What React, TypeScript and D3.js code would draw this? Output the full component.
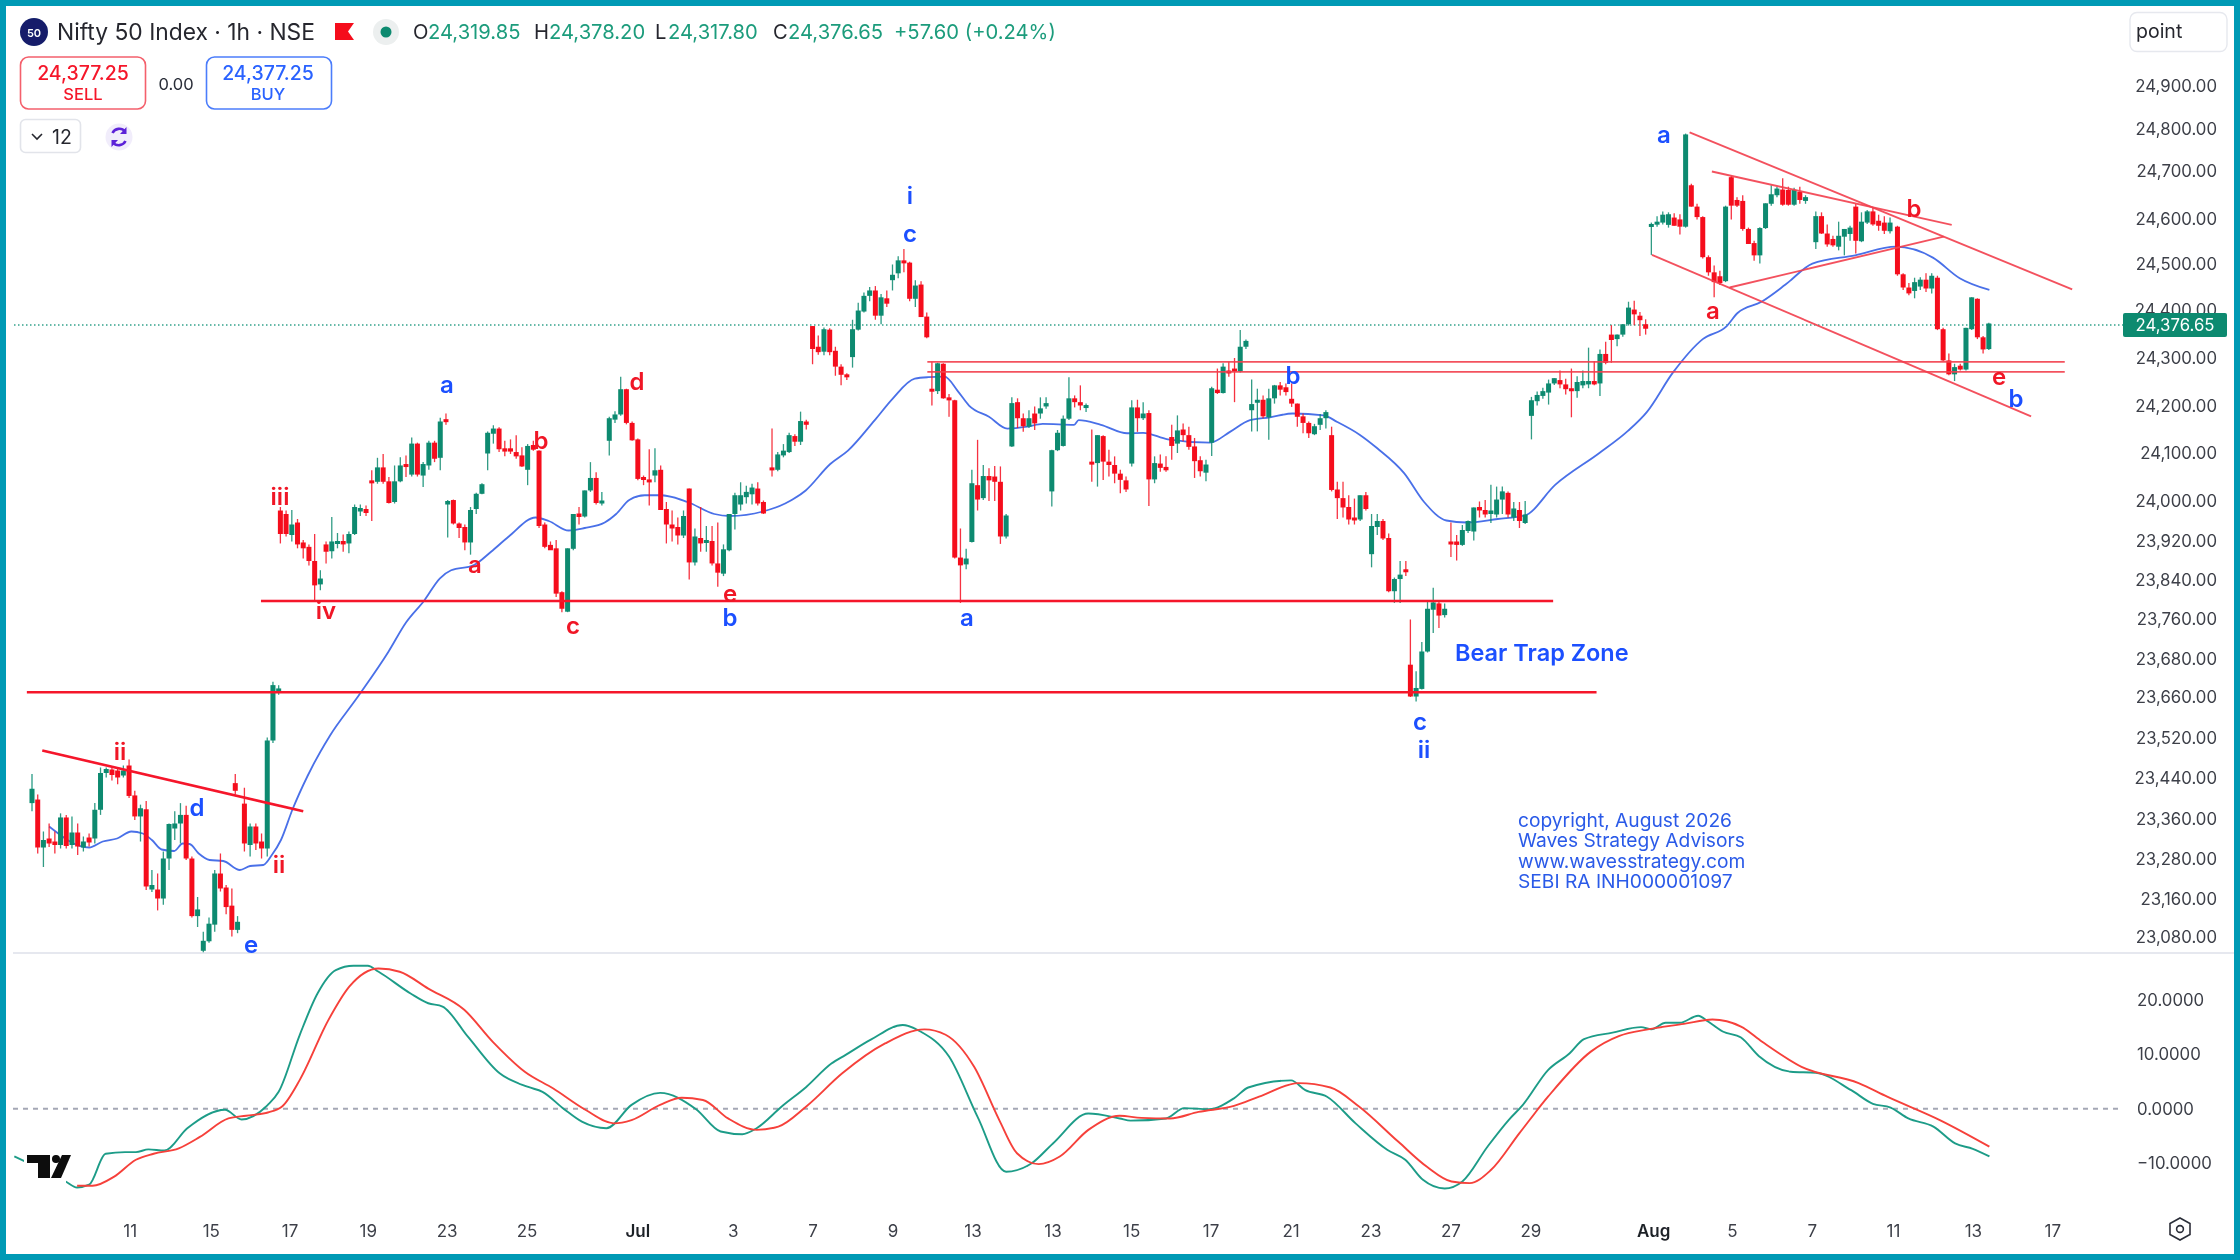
import React from "react";
import * as d3 from "d3";

type Bar = [number, number, number, number]; // open, high, low, close

const seg01: Bar[] = [
[23391,23448,23375,23419],[23398,23408,23291,23303],[23303,23335,23264,23318],[23321,23351,23304,23311],[23315,23335,23291,23308],
[23308,23371,23301,23363],[23363,23368,23301,23306],[23308,23365,23301,23333],[23333,23351,23288,23305],[23303,23325,23295,23315],
[23323,23331,23305,23313],[23321,23391,23311,23378],[23378,23461,23368,23450],[23450,23461,23441,23458],[23457,23461,23435,23446],
[23455,23461,23428,23441],[23445,23465,23441,23455],[23465,23477,23401,23405],[23406,23415,23358,23365],[23365,23388,23315,23381],
[23379,23395,23218,23225],[23219,23258,23214,23228],[23219,23251,23176,23201],[23201,23295,23188,23281],[23281,23351,23258,23350],
[23341,23375,23318,23351],[23351,23391,23311,23368],[23368,23386,23278,23281],[23281,23285,23161,23164],[23164,23204,23141,23178],
[23091,23131,23088,23112],[23111,23161,23108,23148],[23146,23258,23131,23251],[23251,23291,23215,23221],[23223,23228,23168,23183],
[23186,23221,23121,23135],[23135,23164,23128,23152],
];
const seg02: Bar[] = [[23430,23448,23408,23415]];
const seg03: Bar[] = [
[23390,23421,23295,23311],[23308,23351,23285,23345],[23345,23351,23298,23311],[23315,23331,23281,23301],[23301,23521,23285,23515],
[23515,23632,23510,23625],[23610,23625,23605,23618],
];
const seg04: Bar[] = [
[23981,23988,23915,23934],[23974,23981,23929,23934],[23932,23982,23919,23953],[23957,23964,23905,23913],[23917,23922,23884,23905],
[23908,23913,23870,23879],[23879,23934,23796,23829],[23831,23860,23819,23843],[23913,23919,23874,23898],[23899,23968,23884,23919],
[23915,23936,23905,23920],[23920,23933,23898,23913],[23915,23939,23895,23934],[23934,23993,23932,23988],[23979,23993,23970,23986],
[23984,23991,23970,23976],[24043,24064,23960,24038],[24040,24090,24036,24070],[24070,24098,24036,24040],[24041,24050,23995,23996],
[23998,24074,23995,24041],[24041,24091,24039,24074],[24077,24095,24050,24072],[24055,24133,24051,24120],[24120,24122,24051,24055],
[24053,24081,24029,24077],[24074,24126,24065,24122],[24122,24126,24081,24088],[24090,24175,24064,24167],[24172,24184,24160,24167],
];
const seg05: Bar[] = [
[23993,24002,23927,24000],[24002,24003,23953,23955],[23955,23957,23926,23946],[23948,23953,23901,23917],[23917,23988,23892,23982],
[23984,24017,23974,24015],[24015,24037,24014,24035],
];
const seg06: Bar[] = [
[24099,24146,24064,24143],[24141,24159,24120,24152],[24152,24155,24102,24108],[24110,24126,24093,24103],[24110,24129,24098,24103],
[24102,24138,24088,24093],[24095,24112,24071,24072],[24065,24119,24033,24115],[24117,24126,24105,24107],[24105,24106,23946,23950],
[23953,23957,23905,23908],[23912,23919,23902,23901],[23905,23922,23805,23812],[23815,23817,23774,23781],[23775,23905,23774,23905],
[23904,23974,23901,23974],[23975,23988,23953,23968],[23969,24022,23967,24022],[24022,24081,24019,24048],[24048,24060,23993,23996],
[23996,24019,23991,24001],
];
const seg07: Bar[] = [
[24126,24177,24095,24174],[24171,24189,24164,24182],[24182,24261,24179,24235],[24235,24236,24161,24164],[24164,24167,24126,24127],
[24129,24131,24043,24046],[24050,24053,24033,24044],[24045,24108,23991,24042],[24053,24110,24039,24064],[24065,24074,23983,23982],
[23984,23998,23915,23953],[23953,23981,23919,23945],[23948,23967,23913,23931],[23931,23981,23926,23970],[24026,24026,23841,23876],
[23876,23945,23870,23929],[23926,23988,23898,23915],[23917,23950,23898,23922],[23920,23950,23870,23874],[23874,23957,23826,23855],
[23853,23913,23848,23903],[23901,23974,23899,23974],[23974,24017,23943,24012],[23993,24039,23981,24012],[24008,24032,23995,24019],
[24014,24036,23993,24028],[24026,24039,23991,23995],[23998,24001,23974,23975],
];
const seg08: Bar[] = [
[24070,24152,24051,24065],[24065,24102,24062,24097],[24095,24119,24091,24105],[24102,24143,24100,24138],[24136,24140,24115,24124],
[24124,24188,24117,24168],[24167,24171,24150,24160],
];
const seg09: Bar[] = [
[24371,24371,24287,24320],[24325,24350,24307,24313],[24314,24368,24306,24364],[24363,24366,24306,24313],[24316,24325,24263,24282],
[24282,24287,24243,24265],[24266,24268,24254,24261],[24302,24385,24280,24364],[24363,24421,24361,24405],[24403,24442,24401,24435],
[24435,24453,24424,24446],[24446,24455,24385,24394],[24394,24439,24375,24432],[24430,24446,24412,24419],[24467,24499,24446,24478],
[24481,24517,24471,24508],[24508,24533,24483,24503],[24503,24505,24424,24429],[24429,24467,24412,24456],[24458,24465,24391,24391],
[24392,24401,24344,24346],
];
const seg10: Bar[] = [
[24236,24292,24201,24232],[24231,24290,24225,24289],[24288,24289,24215,24216],[24218,24225,24177,24212],[24212,24213,23884,23886],
[23886,23945,23793,23870],[23872,23904,23862,23884],[23918,24065,23917,24037],[24033,24128,23981,24003],[24006,24075,24002,24052],
[24052,24068,24000,24043],[24051,24073,24000,24040],[24040,24072,23914,23929],[23929,23974,23925,23971],[24114,24218,24113,24206],
[24208,24216,24153,24174],[24174,24184,24145,24157],[24156,24191,24153,24174],[24184,24199,24149,24163],[24184,24218,24173,24195],
[24199,24218,24194,24206],[24020,24107,23989,24106],[24106,24149,24104,24143],[24115,24180,24114,24173],[24173,24260,24170,24216],
[24216,24222,24197,24208],[24208,24243,24191,24201],[24197,24205,24187,24202],[24082,24150,24040,24079],[24079,24138,24030,24138],
[24136,24138,24044,24082],[24082,24107,24051,24075],[24075,24093,24037,24057],[24057,24065,24016,24044],[24043,24051,24019,24024],
[24078,24212,24072,24197],[24197,24213,24145,24174],[24174,24208,24170,24184],[24185,24191,23990,24045],[24045,24093,24037,24079],
[24078,24097,24061,24069],[24071,24093,24061,24064],[24134,24160,24086,24115],[24120,24180,24100,24148],[24150,24163,24125,24138],
[24138,24156,24107,24113],[24114,24132,24048,24083],[24085,24093,24051,24062],[24059,24086,24041,24076],[24122,24240,24094,24237],
[24234,24278,24225,24227],[24227,24289,24226,24282],[24274,24292,24261,24268],[24278,24300,24208,24272],[24272,24362,24270,24325],
[24325,24341,24320,24338],[24191,24255,24146,24204],[24207,24236,24146,24213],[24213,24222,24174,24178],[24176,24236,24128,24216],
[24216,24244,24205,24243],[24243,24250,24222,24234],[24239,24247,24222,24229],[24215,24247,24198,24205],[24205,24205,24156,24177],
[24178,24184,24142,24164],[24164,24167,24132,24142],[24140,24162,24138,24157],[24160,24183,24149,24174],[24174,24191,24152,24187],
[24138,24156,24020,24023],[24024,24040,23964,24006],[24006,24040,23967,23987],[23988,24012,23953,23963],[23967,24005,23953,23961],
[23963,24012,23960,24012],[24012,24019,23981,23984],[23893,23974,23866,23950],[23948,23974,23932,23960],[23960,23964,23922,23925],
[23926,23935,23815,23817],[23817,23845,23793,23842],[23842,23879,23793,23851],[23862,23879,23848,23856],
];
const seg11: Bar[] = [
[23668,23759,23600,23601],[23601,23654,23591,23619],[23617,23714,23616,23695],[23695,23796,23693,23781],[23779,23824,23732,23794],
[23792,23799,23742,23767],[23768,23792,23763,23781],
];
const seg12: Bar[] = [
[23919,23957,23887,23917],[23919,23932,23880,23912],[23912,23952,23910,23942],[23940,23961,23936,23960],[23939,23987,23921,23987],
[23988,23999,23967,23981],[23982,24002,23967,23973],[23974,24034,23956,23981],[23973,24030,23967,24003],[24003,24030,23974,24020],
[24017,24020,23967,23973],[23967,23998,23960,23985],[23982,23998,23946,23960],[23956,24000,23954,23973],
];
const seg13: Bar[] = [
[24179,24219,24129,24212],[24210,24230,24201,24223],[24221,24238,24215,24231],[24228,24255,24203,24247],[24247,24258,24244,24258],
[24254,24274,24237,24245],[24245,24257,24224,24235],[24237,24278,24176,24231],[24231,24262,24217,24250],[24243,24274,24237,24252],
[24245,24323,24237,24252],[24252,24294,24243,24245],[24247,24319,24221,24309],[24309,24336,24287,24290],[24352,24373,24290,24340],
[24342,24352,24326,24352],[24352,24375,24347,24375],[24375,24423,24372,24411],[24407,24425,24373,24397],[24394,24402,24349,24384],
[24375,24386,24352,24365],
];
const seg14: Bar[] = [
[24582,24591,24520,24588],[24588,24605,24582,24593],[24591,24615,24587,24608],[24586,24613,24580,24609],[24602,24611,24584,24584],
[24598,24609,24565,24582],[24582,24788,24580,24786],[24670,24673,24625,24625],[24625,24631,24598,24603],[24603,24605,24512,24515],
[24515,24519,24476,24483],[24483,24497,24432,24463],[24475,24486,24457,24461],[24465,24627,24463,24625],[24687,24690,24598,24627],
[24639,24645,24624,24627],[24637,24649,24573,24577],[24577,24580,24544,24544],[24546,24551,24507,24519],[24519,24581,24501,24579],
[24579,24632,24577,24632],[24631,24670,24627,24651],[24649,24667,24645,24663],[24661,24685,24627,24629],[24660,24667,24627,24629],
[24629,24665,24627,24660],[24656,24667,24631,24639],[24637,24649,24631,24645],
];
const seg15: Bar[] = [
[24548,24615,24533,24605],[24605,24613,24566,24567],[24567,24587,24538,24543],[24555,24562,24538,24541],[24538,24593,24530,24562],
[24560,24577,24519,24577],[24566,24584,24551,24580],[24625,24631,24523,24551],[24550,24613,24548,24593],[24591,24618,24588,24615],
[24615,24624,24584,24587],[24595,24608,24573,24584],[24591,24605,24566,24573],[24572,24602,24567,24591],
];
const seg16: Bar[] = [
[24582,24584,24476,24479],[24479,24481,24447,24452],[24452,24461,24436,24440],[24445,24472,24430,24463],[24454,24473,24447,24468],
[24468,24481,24443,24450],[24450,24481,24440,24476],[24472,24476,24362,24364],[24364,24367,24293,24295],[24295,24310,24264,24266],
[24266,24288,24252,24281],[24284,24288,24274,24276],[24276,24367,24274,24367],[24364,24432,24362,24432],[24429,24430,24342,24346],
[24346,24349,24310,24319],[24319.85,24378.2,24317.8,24376.65],
];
const segments: { start: number; bars: Bar[] }[] = [
  { start: 0, bars: seg01 }, { start: 35.6, bars: seg02 }, { start: 37.2, bars: seg03 }, { start: 43.5, bars: seg04 },
  { start: 72.8, bars: seg05 }, { start: 79.8, bars: seg06 }, { start: 101.1, bars: seg07 }, { start: 129.6, bars: seg08 },
  { start: 136.7, bars: seg09 }, { start: 157.6, bars: seg10 }, { start: 241.4, bars: seg11 }, { start: 248.5, bars: seg12 },
  { start: 262.6, bars: seg13 }, { start: 283.6, bars: seg14 }, { start: 312.4, bars: seg15 }, { start: 326.7, bars: seg16 },
];

const maLine: [number, number][] = [
[3,23345],[10,23303],[12.4,23315],[14.9,23321],[17.4,23335],[19.4,23331],[21,23318],[22.7,23299],[24.9,23296],[26.4,23311],[27.6,23310],[29.2,23291],[31.1,23278],[33.5,23276],[36.4,23258],[38.2,23266],[40.5,23268],[42,23288],[43.6,23318],[45.6,23378],[48.3,23445],[52.2,23525],[56.9,23598],
[62.4,23694],[65.5,23753],[68.7,23798],[71.4,23843],[73.4,23860],[77.3,23870],[80.4,23898],[83.5,23929],[88.2,23967],[90.5,23960],[94,23941],[96.8,23946],[100.3,23957],[102.3,23974],[104.6,24002],[107.3,24012],[110.1,24012],[114.8,23998],[119.5,23974],[122.2,23970],[128,23979],[131.9,23995],[135.5,24022],[139.8,24077],[142.9,24105],[147.6,24170],[150.7,24215],[154.6,24257],[156.9,24260],
[159.8,24261],[162.2,24230],[164.1,24201],[167.6,24177],[170.8,24152],[174.3,24156],[177,24162],[182.5,24160],[183.3,24170],[187.2,24160],[191.8,24142],[194.6,24143],[198.9,24129],[206.3,24122],[209.8,24145],[213.3,24170],[216.8,24176],[220.8,24184],[226.2,24180],[228.6,24166],[232.5,24139],[235.6,24110],[240.3,24058],[243.8,23998],[247.7,23961],[251.2,23957],[256.7,23964],[261.4,23971],[266.8,24034],[274.5,24100],
[279.5,24147],[282.8,24187],[287.4,24270],[292.6,24342],[296.8,24371],[298.7,24400],[302.9,24423],[307.1,24458],[311.8,24501],[319.3,24519],[326.4,24538],[332.9,24514],[337.6,24471],[342.8,24447],
];

const signalGreen: [number, number][] = [
[-3.1,-8.8],[5.9,-13.4],[7.9,-14.5],[10,-14],[12.9,-8.3],[16.3,-8],[18.2,-8],[20.4,-7.5],[23.2,-7.7],[27.2,-3.6],[33.8,-0.2],[36.7,-2],[41.3,0.7],[43.2,3.1],[46.9,13.6],[50,21.2],[53.2,25.5],[56.3,26.3],[58.8,26.3],[60.7,25.2],[66.3,21.2],[69.4,19.4],[71.9,18.8],[76.3,13.3],[81.9,6.5],[86.9,4],[89.4,3.1],[93.2,-0.1],[96.3,-2.4],[100.6,-3.6],[105,0.7],[110,2.9],[116.3,-0.1],[120.6,-4.2],[124.4,-4.7],[126.9,-3.6],[131.3,0.4],[135.6,4],[140,8.3],[142.5,9.9],[146.9,12.7],[152.5,15.4],[155.6,14.2],[160.6,9.6],[165.6,-1.5],[170.6,-11.6],[175,-10.1],[178.8,-6.4],[185,-0.9],[190.5,-1.8],[192.4,-2.2],[198.6,-1.8],[201.8,0.1],[206.1,-0.1],[210.5,1.9],[213,3.9],[220.5,5.2],[223,3.4],[226.8,2.2],[231.8,-2.7],[237.4,-7.6],[240.5,-9.4],[243.6,-13.1],[247.4,-14.7],[250.5,-13.4],[254.9,-7],[258.6,-2.1],[261.1,0.7],[265.5,7.1],[269.3,10.2],[271.8,12.8],[276.8,14],[281.8,15],[283.6,14.6],[286.1,15.8],[288.6,15.8],[291.8,17.1],[293.6,16],[296.1,14.2],[299.3,13.1],[302.4,9.7],[308,6.8],[312.4,6.6],[318.6,3.4],[322.4,0.9],[325.5,0.2],[328.6,-1.8],[333,-3.3],[336.8,-6.4],[339.9,-7.4],[342.8,-8.8],
];
const signalRed: [number, number][] = [
[7.9,-14.2],[10.6,-14.2],[14.4,-12.5],[18.2,-9.4],[21.3,-8.3],[25.7,-7.3],[29.4,-5.2],[34.4,-1.8],[37.5,-1.3],[41.3,-0.7],[43.8,0.4],[46.9,5.3],[51.9,16.3],[55.6,22.5],[60.7,25.8],[64.4,25.2],[69.4,22.1],[75.7,18.2],[80.7,12.3],[86.3,6.8],[91.3,3.7],[96.9,-0.2],[101.9,-2.7],[105,-2.1],[110,0.7],[113.8,2],[117.5,1.6],[121.9,-1.8],[126.9,-3.9],[130.7,-3.3],[135.6,0.4],[141.9,6.5],[149.4,12],[156.3,14.6],[160,13.6],[165,7.7],[169.4,-2.1],[172.5,-8.2],[176.3,-10.2],[180,-8.8],[185,-3.9],[190.5,-1.3],[194.3,-1.7],[199.3,-1.8],[204.3,-0.6],[210.5,0.5],[214.9,2.2],[221.8,4.7],[227.4,3.9],[232.4,0.4],[239.3,-6.1],[244.3,-10.7],[248.6,-13.4],[251.8,-13.7],[255.5,-11.3],[260.5,-4.5],[265.5,2.2],[273,10.5],[278,13.4],[283,14.6],[289.3,15.6],[294.3,16.4],[299.3,15.1],[303,12.3],[309.9,7.7],[319.9,4.7],[324.9,2.2],[334.3,-2.2],[342.8,-7],
];

const strongLines: [number, number, number, number][] = [
  [1.8, 23495, 47.5, 23375],
  [40.1, 23797, 266.4, 23797],
  [-0.9, 23610, 274, 23610],
];
const softLines: [number, number, number, number][] = [
  [156.8, 24292, 356, 24292],
  [156.8, 24271, 356, 24271],
  [290.3, 24791, 357.3, 24448],
  [283.7, 24520, 350.1, 24178],
  [294.2, 24699, 336.2, 24586],
  [297.3, 24452, 334.8, 24560],
];

const priceTickValues = [24900,24800,24700,24600,24500,24400,24300,24200,24100,24000,23920,23840,23760,23680,23600,23520,23440,23360,23280,23200,23120];
const priceTickLabels = ["24,900.00","24,800.00","24,700.00","24,600.00","24,500.00","24,400.00","24,300.00","24,200.00","24,100.00","24,000.00","23,920.00","23,840.00","23,760.00","23,680.00","23,660.00","23,520.00","23,440.00","23,360.00","23,280.00","23,160.00","23,080.00"];
const priceTickPixels = [86,128.5,171,218.5,264,313,358,406,453,501,541,580,619,659,697,738,778,819,859,899,937];

const dateLabels = ["11","15","17","19","23","25","Jul","3","7","9","13","13","15","17","21","23","27","29","Aug","5","7","11","13","17"];
const dateBars = [17.2,31.4,45.2,58.9,72.7,86.7,106.1,122.8,136.8,150.8,164.8,178.8,192.6,206.5,220.5,234.5,248.5,262.5,284,297.8,311.8,326,340,353.9];
const monthLabels = ["Jul", "Aug"];

const oscTicks = [20, 10, 0, -10];

const blueLabels: [string, number, number][] = [
  ["a",447,384],["i",910,195],["c",910,233],["a",1664,134],["d",197,807],["e",251,944],["b",1293,375],["b",730,617],["a",967,617],["c",1420,721],["ii",1424,749],["b",2016,398],
];
const redLabels: [string, number, number][] = [
  ["ii",120,751],["ii",279,864],["iii",280,496],["iv",326,610],["a",475,564],["b",541,440],["c",573,625],["d",637,381],["e",730,593],["a",1713,310],["b",1914,208],["e",1999,376],
];
const copyrightLines = ["copyright, August 2026", "Waves Strategy Advisors", "www.wavesstrategy.com", "SEBI RA INH000001097"];

const FONT = "Inter, 'Noto Sans', sans-serif";
const GREEN = "#0b8a6f";
const RED = "#f5101f";
const BLUE = "#1a4fff";
const TEAL = "#009ab5";

const x = d3.scaleLinear().domain([0, 1]).range([32, 37.71]);
const y = d3.scaleLinear().domain(priceTickValues).range(priceTickPixels);
const z = d3.scaleLinear().domain([20, -10]).range([1000, 1163]);

const maPath = d3.line<[number, number]>().x((d) => x(d[0])).y((d) => y(d[1])).curve(d3.curveMonotoneX)(maLine) as string;
const oscPath = d3.line<[number, number]>().x((d) => x(d[0])).y((d) => z(d[1])).curve(d3.curveMonotoneX);

const lastClose = 24376.65;

export default function App() {
  const lastY = y(lastClose) + 1.5;
  return (
    <svg width={2240} height={1260} style={{ position: "absolute", left: 0, top: 0, background: "#fff" }} fontFamily={FONT}>
      <defs>
        <clipPath id="pane"><rect x={6} y={0} width={2228} height={953} /></clipPath>
        <filter id="soft"><feGaussianBlur stdDeviation="0.45" /></filter>
      </defs>
      <rect width={2240} height={1260} fill="#fff" />

      <g filter="url(#soft)">
        <line x1={14} x2={2123} y1={lastY} y2={lastY} stroke={GREEN} strokeWidth={1.3} strokeDasharray="1.5 2.5" opacity={0.8} />
        <line x1={13} x2={2234} y1={953} y2={953} stroke="#e6e8ef" strokeWidth={2} />

        <path d={maPath} fill="none" stroke="#4a70e8" strokeWidth={1.8} />

        <g clipPath="url(#pane)">
          {segments.map((s, si) =>
            s.bars.map((b, i) => {
              const [o, h, l, c] = b;
              const col = c >= o ? GREEN : RED;
              const cx = x(s.start + i);
              const top = y(Math.max(o, c));
              const bot = y(Math.min(o, c));
              return (
                <g key={`${si}-${i}`}>
                  <line x1={cx} x2={cx} y1={y(h)} y2={y(l)} stroke={col} strokeWidth={1.3} opacity={0.85} />
                  <rect x={cx - 2.5} width={5} y={top} height={Math.max(bot - top, 3)} fill={col} />
                </g>
              );
            })
          )}
        </g>

        {softLines.map((l, i) => (
          <line key={i} x1={x(l[0])} y1={y(l[1])} x2={x(l[2])} y2={y(l[3])} stroke="#f2404e" strokeWidth={1.9} opacity={0.9} />
        ))}
        {strongLines.map((l, i) => (
          <line key={i} x1={x(l[0])} y1={y(l[1])} x2={x(l[2])} y2={y(l[3])} stroke="#f5142a" strokeWidth={2.6} />
        ))}

        {blueLabels.map(([t, px, py], i) => (
          <text key={i} x={px} y={py} textAnchor="middle" dominantBaseline="central" fontSize={24} fontWeight={600} fill={BLUE}>{t}</text>
        ))}
        {redLabels.map(([t, px, py], i) => (
          <text key={i} x={px} y={py} textAnchor="middle" dominantBaseline="central" fontSize={24} fontWeight={600} fill="#f01525">{t}</text>
        ))}
        <text x={1455} y={661} fontSize={23.5} fontWeight={600} fill={BLUE}>Bear Trap Zone</text>
        {copyrightLines.map((t, i) => (
          <text key={i} x={1518} y={827 + i * 20.3} fontSize={19.2} fill="#2a5ae8">{t}</text>
        ))}

        {/* price axis */}
        {priceTickLabels.map((t, i) => (
          <text key={i} x={2217} y={priceTickPixels[i] - (t === "24,400.00" ? 3 : 0)} textAnchor="end" dominantBaseline="central" fontSize={16.8} fill="#3c3f48">{t}</text>
        ))}
        <rect x={2123} y={313} width={104} height={24} rx={2} fill={GREEN} />
        <text x={2175} y={325} textAnchor="middle" dominantBaseline="central" fontSize={16.8} fill="#fff">{lastClose.toLocaleString("en-US")}</text>

        {/* oscillator */}
        <line x1={13} x2={2123} y1={z(0)} y2={z(0)} stroke="#9598a8" strokeWidth={2} strokeDasharray="5 5" opacity={0.85} />
        <path d={oscPath(signalGreen) as string} fill="none" stroke="#1f9c88" strokeWidth={1.9} />
        <path d={oscPath(signalRed) as string} fill="none" stroke="#f6413a" strokeWidth={1.9} />
        {oscTicks.map((v) => (
          <text key={v} x={2137} y={z(v)} dominantBaseline="central" fontSize={16.8} fill="#3c3f48">
            {v < 0 ? "−" : ""}{Math.abs(v).toFixed(4)}
          </text>
        ))}

        {/* date axis */}
        {dateLabels.map((t, i) => (
          <text key={i} x={x(dateBars[i])} y={1231} textAnchor="middle" dominantBaseline="central" fontSize={17}
            fontWeight={monthLabels.includes(t) ? 600 : 400} fill={monthLabels.includes(t) ? "#1f2128" : "#3c3f48"}>{t}</text>
        ))}

        {/* TradingView mark */}
        <rect x={24} y={1150} width={42} height={50} fill="#fff" />
        <path d="M27 1155H50V1178H38V1163H27Z" fill="#0a0a0a" />
        <circle cx={56} cy={1159} r={4} fill="#0a0a0a" />
        <path d="M62 1155H71L61 1178H51Z" fill="#0a0a0a" />

        {/* settings */}
        <path d="M2180 1218L2190 1223.5V1234.5L2180 1240L2170 1234.5V1223.5Z" fill="none" stroke="#2a2e39" strokeWidth={1.6} />
        <circle cx={2180} cy={1229} r={3.4} fill="none" stroke="#2a2e39" strokeWidth={1.6} />

        {/* header */}
        <circle cx={34} cy={32} r={14} fill="#131f6b" />
        <text x={34} y={32.5} textAnchor="middle" dominantBaseline="central" fontSize={11} fontWeight={600} fill="#fff">50</text>
        <text x={57} y={31} dominantBaseline="central" fontSize={22.8} fill="#26282f">Nifty 50 Index · 1h · NSE</text>
        <path d="M335 23H354L348 31.5L354 40H335Z" fill="#f5101f" />
        <circle cx={386} cy={32} r={13} fill="#ecefef" />
        <circle cx={386} cy={32} r={5.5} fill="#0b8a6f" />
        <g fontSize={20.2} dominantBaseline="central">
          <text x={413} y={31} fill="#26282f">O</text>
          <text x={428} y={31} fill="#1c9c7c">24,319.85</text>
          <text x={534} y={31} fill="#26282f">H</text>
          <text x={549} y={31} fill="#1c9c7c">24,378.20</text>
          <text x={655} y={31} fill="#26282f">L</text>
          <text x={668} y={31} fill="#1c9c7c">24,317.80</text>
          <text x={773} y={31} fill="#26282f">C</text>
          <text x={788} y={31} fill="#1c9c7c">24,376.65</text>
          <text x={894} y={31} fill="#1c9c7c">+57.60 (+0.24%)</text>
        </g>

        <rect x={20.5} y={57} width={125} height={52} rx={8} fill="#fff" stroke="#f4606c" strokeWidth={1.6} />
        <text x={83} y={73} textAnchor="middle" dominantBaseline="central" fontSize={19.5} fontWeight={500} fill="#f5182a">24,377.25</text>
        <text x={83} y={94} textAnchor="middle" dominantBaseline="central" fontSize={16.5} fontWeight={500} fill="#f5182a">SELL</text>
        <text x={176} y={84} textAnchor="middle" dominantBaseline="central" fontSize={16.5} fill="#2a2e39">0.00</text>
        <rect x={206.5} y={57} width={125} height={52} rx={8} fill="#fff" stroke="#4c7dfb" strokeWidth={1.6} />
        <text x={268} y={73} textAnchor="middle" dominantBaseline="central" fontSize={19.5} fontWeight={500} fill="#2962ff">24,377.25</text>
        <text x={268} y={94} textAnchor="middle" dominantBaseline="central" fontSize={16.5} fontWeight={500} fill="#2962ff">BUY</text>

        <rect x={20.5} y={119.5} width={60} height={33} rx={5} fill="#fff" stroke="#e2e4ea" strokeWidth={1.6} />
        <path d="M32 134L37 139L42 134" fill="none" stroke="#26282f" strokeWidth={1.6} />
        <text x={52} y={137} dominantBaseline="central" fontSize={19.5} fill="#26282f">12</text>
        <circle cx={119} cy={137} r={13.5} fill="#f1edfb" />
        <path d="M112.5 133A7.5 7.5 0 0 1 125 131.5M125.5 141A7.5 7.5 0 0 1 113 142.5" fill="none" stroke="#5b21d8" strokeWidth={2.6} />
        <path d="M126.5 127V134H120ZM111.5 147V140H118Z" fill="#5b21d8" />

        <rect x={2130} y={12.5} width={97} height={39} rx={7} fill="#fff" stroke="#e6e8ee" strokeWidth={1.4} />
        <text x={2136} y={31} dominantBaseline="central" fontSize={19.5} fill="#26282f">point</text>
      </g>

      {/* frame */}
      <rect x={3} y={3} width={2234} height={1254} fill="none" stroke={TEAL} strokeWidth={6} />
    </svg>
  );
}
